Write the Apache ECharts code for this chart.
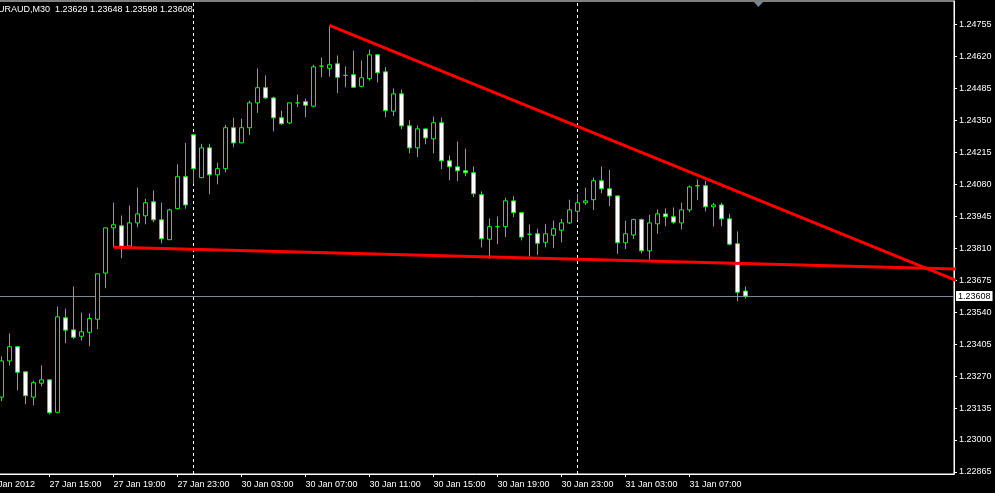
<!DOCTYPE html>
<html><head><meta charset="utf-8">
<script src="https://cdn.jsdelivr.net/npm/echarts@6/dist/echarts.min.js"></script>
<style>html,body{margin:0;padding:0;background:#000;}#c{width:995px;height:493px;}</style>
</head><body><div id="c"></div>
<script>
const symbolName = 'EURAUD,M30';
const lastQuote = ['1.23629', '1.23648', '1.23598', '1.23608'];

// M30 bars, index 0 = 27 Jan 12:00 ... index 93 = 31 Jan 10:30
const opens = [
1.23181,1.23334,1.23394,1.23288,1.23181,1.23240,1.23254,1.23117,1.23516,1.23465,
1.23438,1.23455,1.23510,1.23705,1.23896,1.23905,1.23819,1.23917,1.23947,1.24006,
1.23930,1.23846,1.23977,1.24112,1.24289,1.24108,1.24234,1.24120,1.24146,1.24319,
1.24255,1.24319,1.24424,1.24488,1.24445,1.24361,1.24339,1.24424,1.24429,1.24410,
1.24579,1.24570,1.24589,1.24540,1.24543,1.24494,1.24526,1.24627,1.24555,1.24389,
1.24462,1.24327,1.24234,1.24314,1.24272,1.24340,1.24179,1.24154,1.24137,1.24129,
1.24036,1.23848,1.23901,1.23901,1.24010,1.23960,1.23869,1.23871,1.23835,1.23865,
1.23886,1.23917,1.23966,1.24002,1.24015,1.24095,1.24061,1.24031,1.23833,1.23866,
1.23931,1.23799,1.23913,1.23955,1.23943,1.23917,1.23972,1.24074,1.24074,1.23985,
1.23993,1.23934,1.23829,1.23629];
const closes = [
1.23334,1.23394,1.23286,1.23187,1.23242,1.23254,1.23115,1.23520,1.23464,1.23434,
1.23457,1.23513,1.23702,1.23896,1.23909,1.23819,1.23917,1.23955,1.24002,1.23930,
1.23850,1.23972,1.24112,1.23993,1.24146,1.24234,1.24120,1.24146,1.24319,1.24255,
1.24319,1.24424,1.24488,1.24445,1.24361,1.24336,1.24424,1.24424,1.24414,1.24576,
1.24579,1.24585,1.24532,1.24540,1.24490,1.24530,1.24627,1.24551,1.24391,1.24462,
1.24327,1.24234,1.24314,1.24276,1.24340,1.24179,1.24154,1.24137,1.24129,1.24040,
1.23850,1.23901,1.23901,1.24010,1.23960,1.23857,1.23869,1.23831,1.23871,1.23892,
1.23917,1.23972,1.24002,1.24010,1.24095,1.24061,1.24031,1.23833,1.23871,1.23931,
1.23799,1.23917,1.23955,1.23943,1.23920,1.23972,1.24069,1.24074,1.23985,1.23993,
1.23934,1.23827,1.23624,1.23608];
const lows = [
1.23164,1.23315,1.23210,1.23151,1.23146,1.23227,1.23108,1.23116,1.23409,1.23426,
1.23420,1.23396,1.23468,1.23641,1.23813,1.23768,1.23817,1.23899,1.23911,1.23920,
1.23831,1.23845,1.23975,1.23977,1.24082,1.24106,1.24038,1.24080,1.24131,1.24237,
1.24254,1.24289,1.24382,1.24441,1.24304,1.24331,1.24335,1.24406,1.24363,1.24406,
1.24532,1.24535,1.24465,1.24490,1.24489,1.24490,1.24518,1.24511,1.24363,1.24368,
1.24313,1.24211,1.24195,1.24249,1.24211,1.24144,1.24097,1.24093,1.24114,1.24026,
1.23814,1.23765,1.23827,1.23857,1.23941,1.23843,1.23775,1.23782,1.23814,1.23810,
1.23835,1.23913,1.23930,1.23993,1.23972,1.24042,1.23988,1.23786,1.23807,1.23849,
1.23788,1.23762,1.23871,1.23903,1.23913,1.23889,1.23962,1.24013,1.23966,1.23902,
1.23903,1.23822,1.23586,1.23598];
const highs = [
1.23353,1.23450,1.23396,1.23289,1.23251,1.23315,1.23255,1.23564,1.23555,1.23648,
1.23538,1.23534,1.23703,1.23897,1.24003,1.23948,1.23990,1.24066,1.24019,1.24054,
1.24003,1.23977,1.24164,1.24255,1.24290,1.24251,1.24251,1.24171,1.24331,1.24361,
1.24357,1.24433,1.24569,1.24540,1.24450,1.24391,1.24425,1.24459,1.24442,1.24585,
1.24616,1.24751,1.24624,1.24578,1.24645,1.24603,1.24649,1.24628,1.24575,1.24485,
1.24480,1.24350,1.24328,1.24316,1.24366,1.24362,1.24202,1.24261,1.24231,1.24155,
1.24050,1.23936,1.23944,1.24023,1.24029,1.23961,1.23910,1.23892,1.23913,1.23927,
1.23934,1.24015,1.24040,1.24066,1.24108,1.24155,1.24141,1.24033,1.23926,1.23935,
1.23936,1.23951,1.23974,1.23978,1.23982,1.24002,1.24075,1.24100,1.24095,1.24002,
1.24002,1.23955,1.23881,1.23648];

const xTickIndex = [-2, 6, 14, 22, 30, 38, 46, 54, 62, 70, 78, 86];
const xTickLabels = ['27 Jan 2012', '27 Jan 15:00', '27 Jan 19:00', '27 Jan 23:00',
  '30 Jan 03:00', '30 Jan 07:00', '30 Jan 11:00', '30 Jan 15:00', '30 Jan 19:00',
  '30 Jan 23:00', '31 Jan 03:00', '31 Jan 07:00'];
const yTicks = [1.22865, 1.23000, 1.23135, 1.23270, 1.23405, 1.23540, 1.23675, 1.23810,
  1.23945, 1.24080, 1.24215, 1.24350, 1.24485, 1.24620, 1.24755];
const daySeparators = [24, 72];
const currentPrice = 1.23608;
const supportLine = [[14, 1.23814], [120, 1.23722]];
const resistanceLine = [[41, 1.24751], [120, 1.23665]];

const FONT = 'Liberation Sans';
const GREEN = '#00ff00';
const candleData = opens.map((o, i) => [i, o, closes[i], lows[i], highs[i]]);

const chart = echarts.init(document.getElementById('c'), null, {renderer: 'canvas'});
chart.setOption({
  animation: false,
  backgroundColor: '#000000',
  title: {
    text: symbolName + '  ' + lastQuote.join(' '),
    left: -8, top: 5, padding: 0,
    textStyle: {color: '#ffffff', fontSize: 9, fontFamily: FONT, fontWeight: 'normal'}
  },
  grid: {left: -19, right: 41, top: 1, bottom: 19, outerBoundsMode: 'none', containLabel: false,
    show: true, borderColor: '#ffffff', borderWidth: 1, backgroundColor: '#000000'},
  xAxis: {
    type: 'value', min: -2.5625, max: 119.0625,
    splitLine: {show: false},
    axisLine: {show: true, onZero: false, lineStyle: {color: '#ffffff', width: 1}},
    axisTick: {show: true, length: 3, customValues: xTickIndex, lineStyle: {color: '#ffffff'}},
    axisLabel: {
      customValues: xTickIndex,
      formatter: v => xTickLabels[xTickIndex.indexOf(Math.round(v))] || '',
      color: '#ffffff', fontSize: 9, fontFamily: FONT, align: 'left', margin: 6
    }
  },
  yAxis: {
    type: 'value', position: 'right', min: 1.228563, max: 1.248543,
    splitLine: {show: false},
    axisLine: {show: true, onZero: false, lineStyle: {color: '#ffffff', width: 1}},
    axisTick: {show: true, length: 3, customValues: yTicks, lineStyle: {color: '#ffffff'}},
    axisLabel: {customValues: yTicks, formatter: v => v.toFixed(5), color: '#ffffff', fontSize: 9, fontFamily: FONT, margin: 5}
  },
  graphic: [{
    type: 'polygon', silent: true,
    shape: {points: [[754, 2], [763, 2], [758.5, 7]]},
    style: {fill: '#778899'}
  }],
  series: [
    {
      type: 'line', z: 1, data: [], symbol: 'none',
      markLine: {
        z: 1, silent: true, precision: 5, symbol: ['none', 'none'], animation: false,
        data: daySeparators.map(v => ({xAxis: v, lineStyle: {color: '#ffffff', type: [3, 3], width: 1}, label: {show: false}}))
          .concat([{
            yAxis: currentPrice,
            lineStyle: {color: '#778899', type: 'solid', width: 1},
            label: {show: true, position: 'end', distance: 2, formatter: () => currentPrice.toFixed(5),
              color: '#000000', backgroundColor: '#ffffff', padding: [1, 2, 0, 2], fontSize: 9, fontFamily: FONT}
          }])
      }
    },
    {
      type: 'candlestick', z: 2,
      data: candleData,
      barWidth: 4,
      itemStyle: {color: '#000000', color0: '#ffffff', borderColor: GREEN, borderColor0: GREEN, borderColorDoji: GREEN, borderWidth: 1}
    },
    {type: 'line', z: 3, data: supportLine, symbol: 'none', lineStyle: {color: '#ff0000', width: 3}},
    {type: 'line', z: 3, data: resistanceLine, symbol: 'none', lineStyle: {color: '#ff0000', width: 3}}
  ]
});
</script>
</body></html>
